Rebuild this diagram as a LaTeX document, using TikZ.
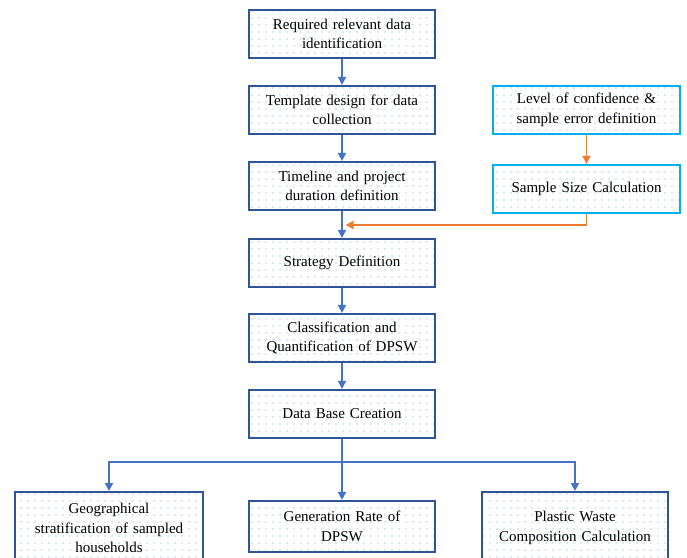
\documentclass[tikz,border=0pt]{standalone}
\usepackage{fontspec}
\setmainfont{Liberation Serif}
\usetikzlibrary{patterns.meta,arrows.meta}
\definecolor{boxblue}{HTML}{2F5597}
\definecolor{arrblue}{HTML}{4472C4}
\definecolor{cyanb}{HTML}{00B0F0}
\definecolor{orng}{HTML}{ED7D31}
\definecolor{dotc}{HTML}{6F9AD6}
\tikzset{
  dotfill/.style={pattern={Dots[distance=7pt,radius=0.6pt]}, pattern color=dotc},
  mainbox/.style={draw=boxblue, line width=2.2pt, dotfill, minimum width=186pt, minimum height=48pt,
    text width=180pt, align=center, font=\fontsize{15}{19.5}\selectfont, inner sep=0pt},
  sidebox/.style={mainbox, draw=cyanb, minimum width=187pt},
  barr/.style={draw=arrblue, line width=1.8pt, -{Triangle[length=8pt,width=8pt]}},
  oarr/.style={draw=orng, line width=1.8pt, -{Triangle[length=8pt,width=8pt]}}
}
\begin{document}
\begin{tikzpicture}[x=1pt,y=-1pt]
\useasboundingbox (0,0) rectangle (687,557);
\clip (0,0) rectangle (687,557);
\node[mainbox] (b1) at (342,34) {Required relevant data\\identification};
\node[mainbox] (b2) at (342,110) {Template design for data\\collection};
\node[mainbox] (b3) at (342,186) {Timeline and project\\duration definition};
\node[mainbox] (b4) at (342,263) {Strategy Definition};
\node[mainbox] (b5) at (342,338) {Classification and\\Quantification of DPSW};
\node[mainbox] (b6) at (342,414) {Data Base Creation};
\node[sidebox] (sa) at (586.5,110) {Level of confidence \&\\sample error definition};
\node[sidebox] (sb) at (586.5,189) {Sample Size Calculation};
\node[mainbox, anchor=north, minimum width=188pt, minimum height=0pt, inner ysep=11pt] (bl) at (109,491) {Geographical\\stratification of sampled\\households};
\node[mainbox, minimum height=51pt] (bm) at (342,526.5) {Generation Rate of\\DPSW};
\node[mainbox, anchor=north, minimum height=0pt, inner ysep=19pt] (br) at (575,491) {Plastic Waste\\Composition Calculation};
\coordinate (oc) at (345.5,225);
\coordinate (sp) at (342,462);
\draw[barr] (b1) -- (b2);
\draw[barr] (b2) -- (b3);
\draw[barr] (b3) -- (b4);
\draw[barr] (b4) -- (b5);
\draw[barr] (b5) -- (b6);
\draw[oarr] (sa) -- (sb);
\draw[oarr] (sb.south) |- (oc);
\draw[barr] (b6) -- (bm);
\draw[barr] (sp) -| (bl.north);
\draw[barr] (sp) -| (br.north);
\end{tikzpicture}
\end{document}
